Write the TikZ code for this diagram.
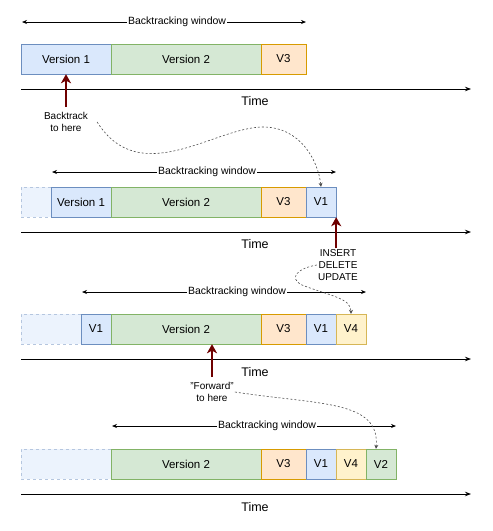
\documentclass[tikz,border=0pt]{standalone}
\usepackage{fontspec}
\setmainfont{Liberation Sans}
\usetikzlibrary{arrows.meta,positioning}
\definecolor{bluF}{HTML}{DAE8FC}\definecolor{bluD}{HTML}{6C8EBF}
\definecolor{grnF}{HTML}{D5E8D4}\definecolor{grnD}{HTML}{82B366}
\definecolor{orgF}{HTML}{FFE6CC}\definecolor{orgD}{HTML}{D79B00}
\definecolor{ylwF}{HTML}{FFF2CC}\definecolor{ylwD}{HTML}{D6B656}
\definecolor{gstF}{HTML}{ECF3FD}\definecolor{gstD}{HTML}{B5C6DF}
\definecolor{pushC}{HTML}{6F0000}
\tikzset{ver/.style={draw,minimum height=30,inner sep=0pt,font=\fontsize{11.5}{13}\selectfont},
blu/.style={fill=bluF,draw=bluD},grn/.style={fill=grnF,draw=grnD},
org/.style={fill=orgF,draw=orgD},ylw/.style={fill=ylwF,draw=ylwD},
ghost/.style={fill=gstF,draw=gstD,dash pattern=on 3pt off 3pt},
window/.style={{Stealth[length=5pt,width=4pt]}-{Stealth[length=5pt,width=4pt]},line width=.7pt},
winlbl/.style={fill=white,inner sep=1pt,font=\fontsize{10.5}{12}\selectfont},
axis/.style={-{Stealth[length=6pt,width=4.5pt]},line width=.8pt},
timelbl/.style={font=\fontsize{12.5}{14}\selectfont},
push/.style={-{Stealth[length=9pt,width=10pt,inset=2.5pt]},line width=2pt,draw=pushC},
note/.style={align=center,inner sep=1pt,font=\fontsize{10}{12}\selectfont},
jump/.style={-{Stealth[length=4pt,width=4pt]},draw=black!70,line width=.6pt,dash pattern=on 2pt off 2pt}}
\begin{document}
\begin{tikzpicture}[x=1pt,y=-1pt]
\useasboundingbox (0,0) rectangle (493,531);
% first state
\coordinate (w1a) at (22,22); \coordinate (w1b) at (306,22);
\draw[window] (w1a)--node[winlbl,pos=.546]{Backtracking window} (w1b);
\node[ver,blu,minimum width=90] (r1v1) at (66,59) {Version 1};
\node[ver,grn,minimum width=150] (r1v2) at (186,59) {Version 2};
\node[ver,org,minimum width=45] (r1v3) at (283.5,59) {V3};
\coordinate (t1a) at (21,89); \coordinate (t1b) at (471,89);
\draw[axis] (t1a)--(t1b);
\node[timelbl] (tm1) at (255,101) {Time};
\node[note] (bk) at (66,122) {Backtrack\\to here};
\draw[push,shorten <=4pt] (bk.north)--(bk.north |- r1v1.south);
% second state
\coordinate (w2a) at (52,172); \coordinate (w2b) at (336,172);
\draw[window] (w2a)--node[winlbl,pos=.546]{Backtracking window} (w2b);
\node[ver,ghost,minimum width=30] (r2g) at (36,202) {};
\node[ver,blu,minimum width=60] (r2v1) at (81,202) {Version 1};
\node[ver,grn,minimum width=150] (r2v2) at (186,202) {Version 2};
\node[ver,org,minimum width=45] (r2v3) at (283.5,202) {V3};
\node[ver,blu,minimum width=30] (r2v1b) at (321,202) {V1};
\coordinate (t2a) at (21,232); \coordinate (t2b) at (471,232);
\draw[axis] (t2a)--(t2b);
\node[timelbl] (tm2) at (255,244) {Time};
\node[note] (ins) at (338,265) {INSERT\\DELETE\\UPDATE};
\draw[push] (r2v1b.south east |- ins.north)--(r2v1b.south east);
\draw[jump] ([xshift=8pt]bk.east) .. controls (140,190) and (215,127) .. (263,127)
  .. controls (300,127) and (318,160) .. (r2v1b.north);
% third state
\coordinate (w3a) at (82,292); \coordinate (w3b) at (366,292);
\draw[window] (w3a)--node[winlbl,pos=.546]{Backtracking window} (w3b);
\node[ver,ghost,minimum width=60] (r3g) at (51,329) {};
\node[ver,blu,minimum width=30] (r3v1) at (96,329) {V1};
\node[ver,grn,minimum width=150] (r3v2) at (186,329) {Version 2};
\node[ver,org,minimum width=45] (r3v3) at (283.5,329) {V3};
\node[ver,blu,minimum width=30] (r3v1b) at (321,329) {V1};
\node[ver,ylw,minimum width=30] (r3v4) at (351,329) {V4};
\coordinate (t3a) at (21,359); \coordinate (t3b) at (471,359);
\draw[axis] (t3a)--(t3b);
\node[timelbl] (tm3) at (255,372) {Time};
\node[note] (fw) at (212,392) {"Forward"\\to here};
\draw[push,shorten <=4pt] (fw.north)--(fw.north |- r3v2.south);
\draw[jump] (ins.west) .. controls (298,268) and (288,278) .. (302,285)
  .. controls (330,296) and (351,298) .. (r3v4.north);
% fourth state
\coordinate (w4a) at (112,426); \coordinate (w4b) at (396,426);
\draw[window] (w4a)--node[winlbl,pos=.546]{Backtracking window} (w4b);
\node[ver,ghost,minimum width=90] (r4g) at (66,464) {};
\node[ver,grn,minimum width=150] (r4v2) at (186,464) {Version 2};
\node[ver,org,minimum width=45] (r4v3) at (283.5,464) {V3};
\node[ver,blu,minimum width=30] (r4v1) at (321,464) {V1};
\node[ver,ylw,minimum width=30] (r4v4) at (351,464) {V4};
\node[ver,grn,minimum width=30] (r4v2b) at (381,464) {V2};
\coordinate (t4a) at (21,494); \coordinate (t4b) at (471,494);
\draw[axis] (t4a)--(t4b);
\node[timelbl] (tm4) at (255,507) {Time};
\draw[jump] (fw.east) .. controls (320,405) and (380,400) .. ([xshift=-5pt]r4v2b.north);
\end{tikzpicture}
\end{document}
